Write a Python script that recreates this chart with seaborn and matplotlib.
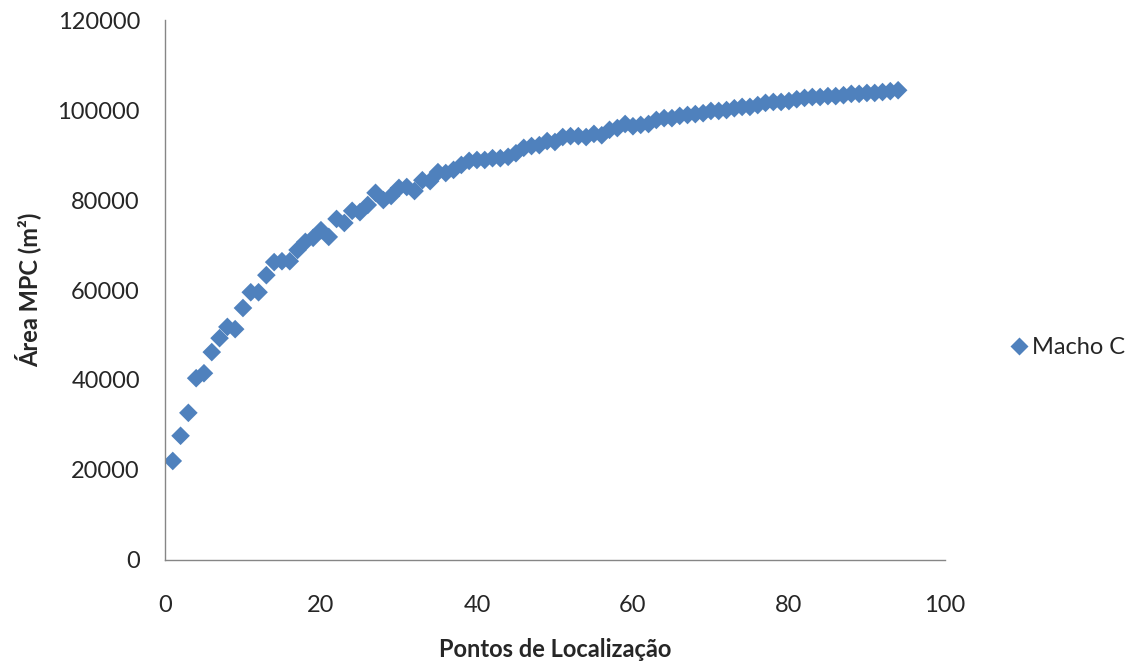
import numpy as np
import pandas as pd
import matplotlib
matplotlib.use("Agg")
import matplotlib.pyplot as plt
import seaborn as sns
from matplotlib.lines import Line2D

# Cumulative MCP area as location points are added
pontos = list(range(1, 95))
area_mpc = [
    22000, 27600, 32700, 40400, 41500, 46200, 49300, 51800, 51300, 56000,
    59500, 59500, 63300, 66200, 66400, 66400, 68900, 70700, 71600, 73300,
    71800, 75800, 74900, 77600, 77300, 78900, 81600, 80000, 80900, 82700,
    82900, 82000, 84400, 84200, 86200, 86000, 86700, 87800, 88700, 88900,
    88900, 89300, 89300, 89600, 90400, 91600, 92000, 92200, 93100, 92900,
    94000, 94200, 94200, 94000, 94700, 94400, 95600, 96000, 96900, 96400,
    96700, 96900, 97800, 98200, 98200, 98700, 98900, 99100, 99300, 99800,
    99800, 100000, 100400, 100700, 100700, 101100, 101600, 101800, 101800, 102000,
    102400, 102700, 102900, 102900, 103100, 103100, 103300, 103600, 103600, 103800,
    103800, 104000, 104200, 104400,
]
serie = "Macho C"
x_ticks = [0, 20, 40, 60, 80, 100]
y_ticks = [0, 20000, 40000, 60000, 80000, 100000, 120000]

df = pd.DataFrame({"Pontos": pontos, "Area": area_mpc, "Serie": serie})

sns.set_style("white")
plt.rcParams["font.family"] = ["Lato", "DejaVu Sans"]

cor = "#4F81BD"
fig = plt.figure(figsize=(11.33, 6.69), dpi=100)
ax = fig.add_axes([0.1456, 0.163, 0.6884, 0.807])

sns.scatterplot(data=df, x="Pontos", y="Area", marker="D", s=90,
                color=cor, edgecolor="none", linewidth=0, ax=ax, legend=False)

ax.set_xlim(0, 100)
ax.set_ylim(0, 120000)
ax.set_xticks(x_ticks)
ax.set_yticks(y_ticks)
ax.set_xticklabels([str(v) for v in x_ticks])
ax.set_yticklabels([str(v) for v in y_ticks])
ax.tick_params(axis="both", length=0, labelsize=17, colors="#262626")
ax.tick_params(axis="x", pad=25)
ax.tick_params(axis="y", pad=18)

for side in ["top", "right"]:
    ax.spines[side].set_visible(False)
for side in ["left", "bottom"]:
    ax.spines[side].set_color("#868686")
    ax.spines[side].set_linewidth(1.0)

ax.set_xlabel("Pontos de Localização", fontsize=17, fontweight="bold",
              color="#262626", labelpad=16)
ax.set_ylabel("Área MPC (m²)", fontsize=17, fontweight="bold",
              color="#262626", labelpad=12)

handle = Line2D([], [], marker="D", linestyle="none", markersize=9,
                markerfacecolor=cor, markeredgecolor="none")
fig.legend([handle], [serie], loc="center left", bbox_to_anchor=(0.87, 0.48),
           frameon=False, fontsize=17, handletextpad=0.05, handlelength=1.0,
           labelcolor="#262626")

fig.savefig("out.png", dpi=100, facecolor="white")
